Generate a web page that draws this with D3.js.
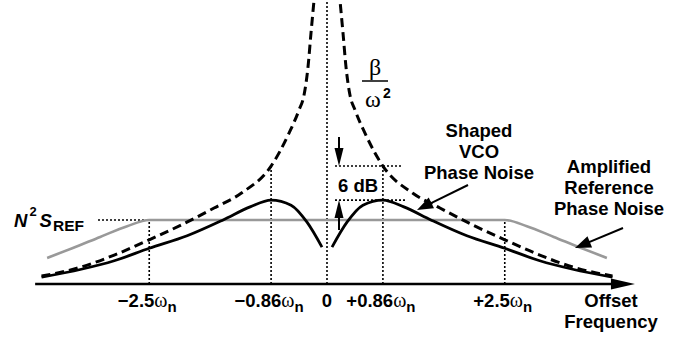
<!DOCTYPE html>
<html>
<head>
<meta charset="utf-8">
<script src="https://cdn.jsdelivr.net/npm/d3@7"></script>
<style>
  html, body { margin: 0; padding: 0; background: #fff; }
  svg { display: block; }
  text { font-family: "Liberation Sans", Arial, Helvetica, sans-serif; font-weight: bold; fill: #000; }
  .greek { font-family: "Liberation Serif", "DejaVu Serif", serif; font-weight: normal; }
</style>
</head>
<body>
<svg id="chart" width="681" height="341"></svg>
<script>
// Offset frequency in units of ωn, noise level in dB above the axis.
const tickValues = [-2.5, -0.86, 0, 0.86, 2.5];
const tickLabels = ["\u22122.5", "\u22120.86", "0", "+0.86", "+2.5"];

// Free-running VCO noise, β/ω² (two branches, no value at the carrier)
const vcoFree = [
  [-3.87, 1.4], [-3.37, 3.0], [-2.951, 5.1], [-2.5, 7.8], [-2.083, 10.4], [-1.645, 13.4],
  [-1.278, 16.0], [-0.86, 20.8], [-0.602, 26.6], [-0.454, 30.7], [-0.379, 33.3],
  [-0.3175, 38.3], [-0.271, 44.3], [-0.208, 51.8],
  [0, null],
  [0.208, 51.8], [0.271, 44.3], [0.3175, 38.3], [0.379, 33.3], [0.454, 30.7],
  [0.602, 26.6], [0.86, 20.8], [1.278, 16.0], [1.645, 13.4], [2.083, 10.4], [2.5, 7.8],
  [2.951, 5.1], [3.37, 3.0], [3.87, 1.4]
];

// VCO noise after high-pass shaping by the loop
const vcoShaped = [
  [-3.87, 1.2], [-3.37, 2.6], [-2.951, 4.1], [-2.5, 6.3], [-2.004, 8.5], [-1.523, 11.3],
  [-1.154, 13.6], [-0.86, 14.8], [-0.572, 13.9], [-0.333, 10.9], [-0.093, 6.5],
  [0, null],
  [0.093, 6.5], [0.333, 10.9], [0.572, 13.9], [0.86, 14.8], [1.154, 13.6], [1.523, 11.3],
  [2.004, 8.5], [2.5, 6.3], [2.951, 4.1], [3.37, 2.6], [3.87, 1.2]
];

// Reference noise multiplied by N², low-pass shaped by the loop
const refAmplified = [
  [-3.80, 4.6], [-3.484, 6.3], [-3.13, 8.3], [-2.785, 10.2], [-2.5, 11.3],
  [2.5, 11.3], [2.785, 10.2], [3.13, 8.3], [3.484, 6.3], [3.80, 4.6]
];

const refLevel = 11.3;     // N²S_REF plateau
const peakLevel = 14.8;    // shaped VCO peak at ±0.86ωn
const peakRise = 6;        // dB gap between β/ω² and the shaped peak
const axisExtent = [-3.95, 4.15];

const svg = d3.select("#chart");

const x = d3.scalePow().exponent(1.084).domain([-4.3, 4.3]).range([7, 647]);
const y = d3.scaleLinear().domain([0, 50]).range([284, 0.5]);

const line = d3.line()
  .defined(d => d[1] !== null)
  .x(d => x(d[0]))
  .y(d => y(d[1]))
  .curve(d3.curveMonotoneX);

function arrow(g, x1, y1, x2, y2, len, half, width) {
  const dx = x2 - x1, dy = y2 - y1;
  const L = Math.hypot(dx, dy);
  const ux = dx / L, uy = dy / L;
  const bx = x2 - ux * len, by = y2 - uy * len;
  g.append("line")
    .attr("x1", x1).attr("y1", y1).attr("x2", bx + ux * 2).attr("y2", by + uy * 2)
    .attr("stroke", "#000").attr("stroke-width", width);
  g.append("path")
    .attr("d", `M${x2},${y2}L${bx - uy * half},${by + ux * half}L${bx + uy * half},${by - ux * half}Z`)
    .attr("fill", "#000");
}

const guides = svg.append("g")
  .attr("stroke", "#000").attr("stroke-width", 1.6).attr("stroke-dasharray", "2,2").attr("fill", "none");

// vertical guides at the tick offsets
const guideTop = v => v === 0 ? 50 : (Math.abs(v) === 2.5 ? refLevel : peakLevel + peakRise);
guides.selectAll("line.v")
  .data(tickValues)
  .join("line")
  .attr("class", "v")
  .attr("x1", d => x(d)).attr("x2", d => x(d))
  .attr("y1", y(0)).attr("y2", d => y(guideTop(d)));

// N²S_REF level marker
guides.append("line")
  .attr("x1", 98).attr("x2", x(-2.5))
  .attr("y1", y(refLevel)).attr("y2", y(refLevel));

// 6 dB markers
guides.append("line")
  .attr("x1", x(0) + 8).attr("x2", x(0.86) + 19)
  .attr("y1", y(peakLevel + peakRise)).attr("y2", y(peakLevel + peakRise));
guides.append("line")
  .attr("x1", x(0) + 8).attr("x2", x(0.86) + 24)
  .attr("y1", y(peakLevel)).attr("y2", y(peakLevel));

// curves
svg.append("path")
  .datum(refAmplified)
  .attr("d", line)
  .attr("fill", "none").attr("stroke", "#999").attr("stroke-width", 2.6);

svg.append("path")
  .datum(vcoFree)
  .attr("d", line)
  .attr("fill", "none").attr("stroke", "#000").attr("stroke-width", 3)
  .attr("stroke-dasharray", "9,5");

svg.append("path")
  .datum(vcoShaped)
  .attr("d", line)
  .attr("fill", "none").attr("stroke", "#000").attr("stroke-width", 2.8);

// offset-frequency axis
const ax = svg.append("g");
arrow(ax, x(axisExtent[0]), y(0), x(axisExtent[1]), y(0), 24, 5.5, 2.6);

// tick labels
const tl = svg.append("g").attr("text-anchor", "middle");
tickValues.forEach((v, i) => {
  const t = tl.append("text").attr("x", x(v) - (v === 0 ? 0 : 2)).attr("y", 307).attr("font-size", 18.5);
  t.append("tspan").text(tickLabels[i]);
  if (v !== 0) {
    t.append("tspan").attr("class", "greek").attr("font-size", 20).text("\u03c9");
    t.append("tspan").attr("font-size", 15).attr("dy", 5).text("n");
  }
});

// axis title
const at = svg.append("text").attr("text-anchor", "middle").attr("font-size", 18.5);
at.append("tspan").attr("x", 611).attr("y", 307).text("Offset");
at.append("tspan").attr("x", 611).attr("y", 328).text("Frequency");

// N²S_REF label
const nl = svg.append("text").attr("x", 14).attr("y", 227).attr("font-size", 18.5);
nl.append("tspan").attr("font-style", "italic").text("N");
nl.append("tspan").attr("font-size", 13).attr("dx", 2).attr("dy", -11).text("2");
nl.append("tspan").attr("font-style", "italic").attr("dx", 3).attr("dy", 11).text("S");
nl.append("tspan").attr("font-size", 15.5).attr("dx", 1).attr("dy", 4).text("REF");

// β/ω² label
svg.append("text").attr("class", "greek").attr("x", 375).attr("y", 75)
  .attr("text-anchor", "middle").attr("font-size", 24).text("\u03b2");
svg.append("line").attr("x1", 362).attr("x2", 388).attr("y1", 81).attr("y2", 81)
  .attr("stroke", "#000").attr("stroke-width", 1.5);
svg.append("text").attr("class", "greek").attr("x", 373).attr("y", 107)
  .attr("text-anchor", "middle").attr("font-size", 24).text("\u03c9");
svg.append("text").attr("x", 383).attr("y", 98).attr("font-size", 14).text("2");

// 6 dB annotation
const ann = svg.append("g");
arrow(ann, 339, 137, 339, y(peakLevel + peakRise), 18, 4.5, 2);
arrow(ann, 339, 230, 339, y(peakLevel), 18, 4.5, 2);
svg.append("text").attr("x", 358).attr("y", 192).attr("text-anchor", "middle")
  .attr("font-size", 18.5).text("6 dB");

// curve callouts
const c1 = svg.append("text").attr("text-anchor", "middle").attr("font-size", 18.5);
["Shaped", "VCO", "Phase Noise"].forEach((s, i) =>
  c1.append("tspan").attr("x", 479).attr("y", 137 + i * 21).text(s));
arrow(ann, 468, 185, 417, 210, 16, 6, 2);

const c2 = svg.append("text").attr("text-anchor", "middle").attr("font-size", 18.5);
["Amplified", "Reference", "Phase Noise"].forEach((s, i) =>
  c2.append("tspan").attr("x", 609).attr("y", 173 + i * 21).text(s));
arrow(ann, 623, 228, 575, 248, 16, 6, 2);
</script>
</body>
</html>
